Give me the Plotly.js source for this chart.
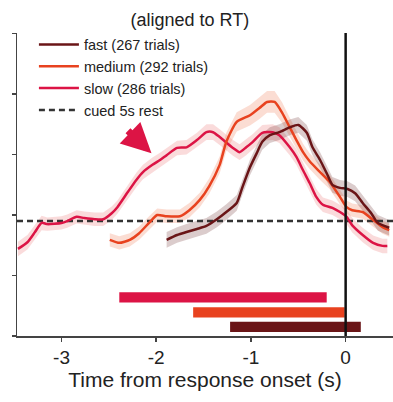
<!DOCTYPE html>
<html>
<head>
<meta charset="utf-8">
<script src="https://cdn.plot.ly/plotly-3.0.1.min.js"></script>
<style>html,body{margin:0;padding:0;background:#fff;}#chart{width:393px;height:402px;}</style>
</head>
<body>
<div id="chart"></div>
<script>
// ---- data (time in s, response in arbitrary units) ----
const slowT = [-3.46,-3.36,-3.28,-3.21,-3.15,-3.00,-2.94,-2.84,-2.76,-2.65,-2.56,-2.47,-2.41,-2.30,-2.21,-2.14,-2.04,-1.96,-1.89,-1.78,-1.68,-1.57,-1.47,-1.40,-1.33,-1.19,-1.12,-1.05,-0.98,-0.88,-0.77,-0.70,-0.59,-0.52,-0.45,-0.38,-0.31,-0.24,-0.14,-0.06,0.01,0.07,0.18,0.29,0.39,0.44];
const slowY = [1.44,1.55,1.72,1.87,1.85,1.87,1.90,1.97,1.95,1.93,1.93,2.03,2.13,2.38,2.58,2.71,2.83,2.91,2.99,3.11,3.12,3.24,3.37,3.37,3.29,3.11,3.04,3.12,3.21,3.36,3.37,3.32,3.12,2.96,2.74,2.53,2.30,2.17,2.12,2.05,1.97,1.83,1.67,1.54,1.49,1.49];
const slowSem = [0.12,0.12,0.12,0.12,0.11,0.11,0.11,0.11,0.11,0.11,0.11,0.11,0.11,0.12,0.12,0.12,0.12,0.12,0.12,0.12,0.12,0.12,0.13,0.13,0.13,0.13,0.13,0.13,0.13,0.13,0.13,0.13,0.13,0.13,0.13,0.13,0.13,0.12,0.12,0.12,0.12,0.12,0.12,0.12,0.12,0.12];

const medT = [-2.49,-2.39,-2.28,-2.18,-2.07,-1.99,-1.89,-1.75,-1.65,-1.54,-1.44,-1.33,-1.26,-1.15,-1.01,-0.91,-0.83,-0.75,-0.67,-0.59,-0.52,-0.45,-0.38,-0.27,-0.17,-0.06,0.01,0.07,0.18,0.29,0.39,0.46];
const medY = [1.59,1.54,1.59,1.70,1.88,2.00,1.98,1.98,2.08,2.25,2.48,2.83,3.21,3.54,3.65,3.77,3.87,3.87,3.69,3.45,3.24,3.04,2.89,2.71,2.55,2.30,2.13,2.08,2.05,1.92,1.80,1.75];
const medSem = [0.11,0.11,0.11,0.11,0.11,0.11,0.11,0.11,0.12,0.12,0.13,0.14,0.15,0.16,0.17,0.18,0.18,0.18,0.17,0.16,0.15,0.14,0.13,0.13,0.12,0.12,0.11,0.11,0.11,0.11,0.11,0.11];

const fastT = [-1.89,-1.78,-1.68,-1.57,-1.47,-1.36,-1.26,-1.15,-1.09,-1.01,-0.94,-0.88,-0.80,-0.70,-0.59,-0.50,-0.41,-0.35,-0.27,-0.20,-0.14,-0.06,0.02,0.10,0.18,0.27,0.34,0.46];
const fastY = [1.59,1.67,1.72,1.77,1.82,1.93,2.05,2.20,2.46,2.79,3.02,3.21,3.32,3.37,3.45,3.49,3.36,3.12,2.91,2.69,2.50,2.45,2.43,2.36,2.20,2.03,1.87,1.79];
const fastSem = [0.13,0.13,0.13,0.13,0.13,0.13,0.13,0.13,0.13,0.13,0.13,0.13,0.13,0.13,0.13,0.13,0.13,0.13,0.13,0.13,0.13,0.13,0.13,0.13,0.13,0.13,0.13,0.13];

const restLevel = 1.9;
const restT = [-3.47, 0.5];

// RT-window bars: start, end, row level
const barNames = ["slow", "medium", "fast"];
const barStart = [-2.39, -1.61, -1.22];
const barEnd = [-0.20, -0.01, 0.16];
const barLevel = [0.64, 0.39, 0.15];

const legendNames = ["fast (267 trials)", "medium (292 trials)", "slow (286 trials)", "cued 5s rest"];
const xTickVals = [-3, -2, -1, 0];
const xTickText = ["-3", "-2", "-1", "0"];
const yTickVals = [0, 1, 2, 3, 4, 5];

// ---- styles ----
const colFast = "#6a1517", colMed = "#e8421f", colSlow = "#dc1445";
const bandFast = "rgba(106,40,40,0.24)", bandMed = "rgba(240,120,80,0.25)", bandSlow = "rgba(235,110,110,0.25)";

function band(t, y, s, color) {
  const xs = t.concat(t.slice().reverse());
  const ys = y.map((v, i) => v + s[i]).concat(y.map((v, i) => v - s[i]).reverse());
  return {x: xs, y: ys, type: "scatter", mode: "lines", fill: "toself", fillcolor: color,
          line: {width: 0, color: "rgba(0,0,0,0)"}, hoverinfo: "skip", showlegend: false};
}
function line(t, y, color, name) {
  return {x: t, y: y, type: "scatter", mode: "lines", name: name,
          line: {color: color, width: 2.5, shape: "spline", smoothing: 0.6}};
}

const barColors = [colSlow, colMed, colFast];
const bars = {
  type: "bar", orientation: "h",
  y: barLevel, base: barStart, x: barEnd.map((e, i) => e - barStart[i]),
  width: 0.17, marker: {color: barColors, line: {width: 0}},
  text: barNames, textposition: "none", hoverinfo: "skip", showlegend: false
};

const data = [
  band(slowT, slowY, slowSem, bandSlow),
  band(medT, medY, medSem, bandMed),
  band(fastT, fastY, fastSem, bandFast),
  bars,
  {x: restT, y: [restLevel, restLevel], type: "scatter", mode: "lines", name: legendNames[3],
   line: {color: "#333", width: 2.5, dash: "6px,4px"}, legendrank: 4},
  Object.assign(line(slowT, slowY, colSlow, legendNames[2]), {legendrank: 3}),
  Object.assign(line(medT, medY, colMed, legendNames[1]), {legendrank: 2}),
  Object.assign(line(fastT, fastY, colFast, legendNames[0]), {legendrank: 1})
];

const layout = {
  width: 393, height: 402,
  margin: {l: 17, r: 0, t: 33, b: 66},
  paper_bgcolor: "#fff", plot_bgcolor: "#fff",
  font: {family: "Liberation Sans, Arial, sans-serif", color: "#222"},
  title: {text: "(aligned to RT)", x: 0.483, xanchor: "center", xref: "container",
          y: 0.95, yanchor: "middle", font: {size: 18, color: "#222"}},
  showlegend: true,
  legend: {x: 0.045, y: 1.015, xanchor: "left", yanchor: "top", font: {size: 14.5, color: "#222"},
           bgcolor: "rgba(0,0,0,0)", traceorder: "normal", itemwidth: 40, tracegroupgap: 0},
  xaxis: {range: [-3.47, 0.5], tickvals: xTickVals, ticktext: xTickText,
          showline: true, linecolor: "#444", linewidth: 1.5, ticks: "outside", ticklen: 4,
          tickcolor: "#444", tickwidth: 1.5, showgrid: false, zeroline: false,
          tickfont: {size: 19, color: "#222"},
          title: {text: "Time from response onset (s)", font: {size: 21, color: "#222"}, standoff: 4}},
  yaxis: {range: [0, 5.01], tickvals: yTickVals, showticklabels: false,
          showline: true, linecolor: "#444", linewidth: 1.5, ticks: "outside", ticklen: 4,
          tickcolor: "#444", tickwidth: 1.5, showgrid: false, zeroline: false},
  shapes: [{type: "line", xref: "x", yref: "paper", x0: 0, x1: 0, y0: 0, y1: 1,
            line: {color: "#111", width: 2.5}, layer: "above"}],
  annotations: [{x: -2.05, y: 3.02, xref: "x", yref: "y", text: "", showarrow: true,
                 ax: -25, ay: -24, arrowcolor: colSlow, arrowwidth: 7, arrowhead: 2, arrowsize: 0.85}]
};

Plotly.newPlot("chart", data, layout, {displayModeBar: false, staticPlot: true});
</script>
</body>
</html>
